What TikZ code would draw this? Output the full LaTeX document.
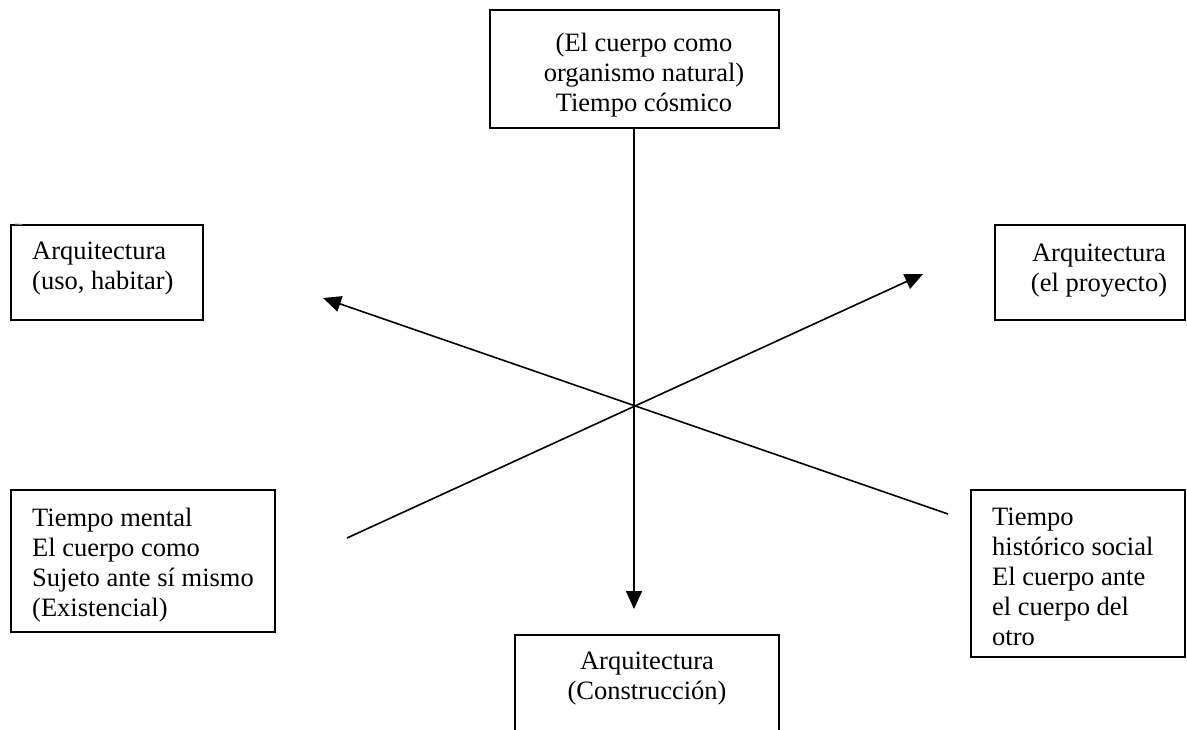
\documentclass[tikz,border=0pt]{standalone}
\usepackage{fontspec}
\setmainfont{Liberation Serif}
\usetikzlibrary{arrows.meta}
\begin{document}
\begin{tikzpicture}[x=1pt,y=-1pt,
  frame/.style={draw, line width=1.5pt, rectangle, inner sep=0pt},
  lbl/.style={inner sep=0pt, font=\fontsize{26.5}{30}\selectfont},
  lleft/.style={lbl, align=left, anchor=north west},
  lmid/.style={lbl, align=center, anchor=north},
  ray/.style={line width=1.6pt},
  arr/.style={ray, -{Triangle[length=18pt,width=16pt]}}]
\useasboundingbox (0,0) rectangle (1187,729);

% frames
\node[frame, minimum width=289pt, minimum height=118pt] (top) at (634.5,69) {};
\node[frame, minimum width=192pt, minimum height=95pt] (uso) at (107,272.5) {};
\node[frame, minimum width=190pt, minimum height=95pt] (proy) at (1090,272.5) {};
\node[frame, minimum width=264pt, minimum height=142pt] (mental) at (143,561) {};
\node[frame, minimum width=214pt, minimum height=167pt] (social) at (1078,573.5) {};
\node[frame, minimum width=264pt, minimum height=130pt] (constr) at (647,700) {};

% captions
\node[lmid] (ttop) at (644,33) {(El cuerpo como\\organismo natural)\\Tiempo cósmico};
\node[lleft] (tuso) at (32,242) {Arquitectura\\(uso, habitar)};
\node[lmid] (tproy) at (1099,244) {Arquitectura\\(el proyecto)};
\node[lleft] (tmental) at (32,508) {Tiempo mental\\El cuerpo como\\Sujeto ante sí mismo\\(Existencial)};
\node[lleft] (tsocial) at (992,508) {Tiempo\\histórico social\\El cuerpo ante\\el cuerpo del\\otro};
\node[lmid] (tconstr) at (647,652) {Arquitectura\\(Construcción)};

% ends of the rays
\coordinate (c) at (635,406);
\coordinate (down) at (634,609);
\coordinate (ul) at (323,298);
\coordinate (lr) at (948,514);
\coordinate (ur) at (923,274);
\coordinate (ll) at (347,538);

% rays through the centre
\draw[arr] (top.south -| down) -- (down);
\draw[arr] (lr) -- (ul);
\draw[arr] (ll) -- (ur);

% small stray mark at the corner of the left frame
\draw[line width=1pt, gray] (15,224) -- (22,224.5);
\end{tikzpicture}
\end{document}
